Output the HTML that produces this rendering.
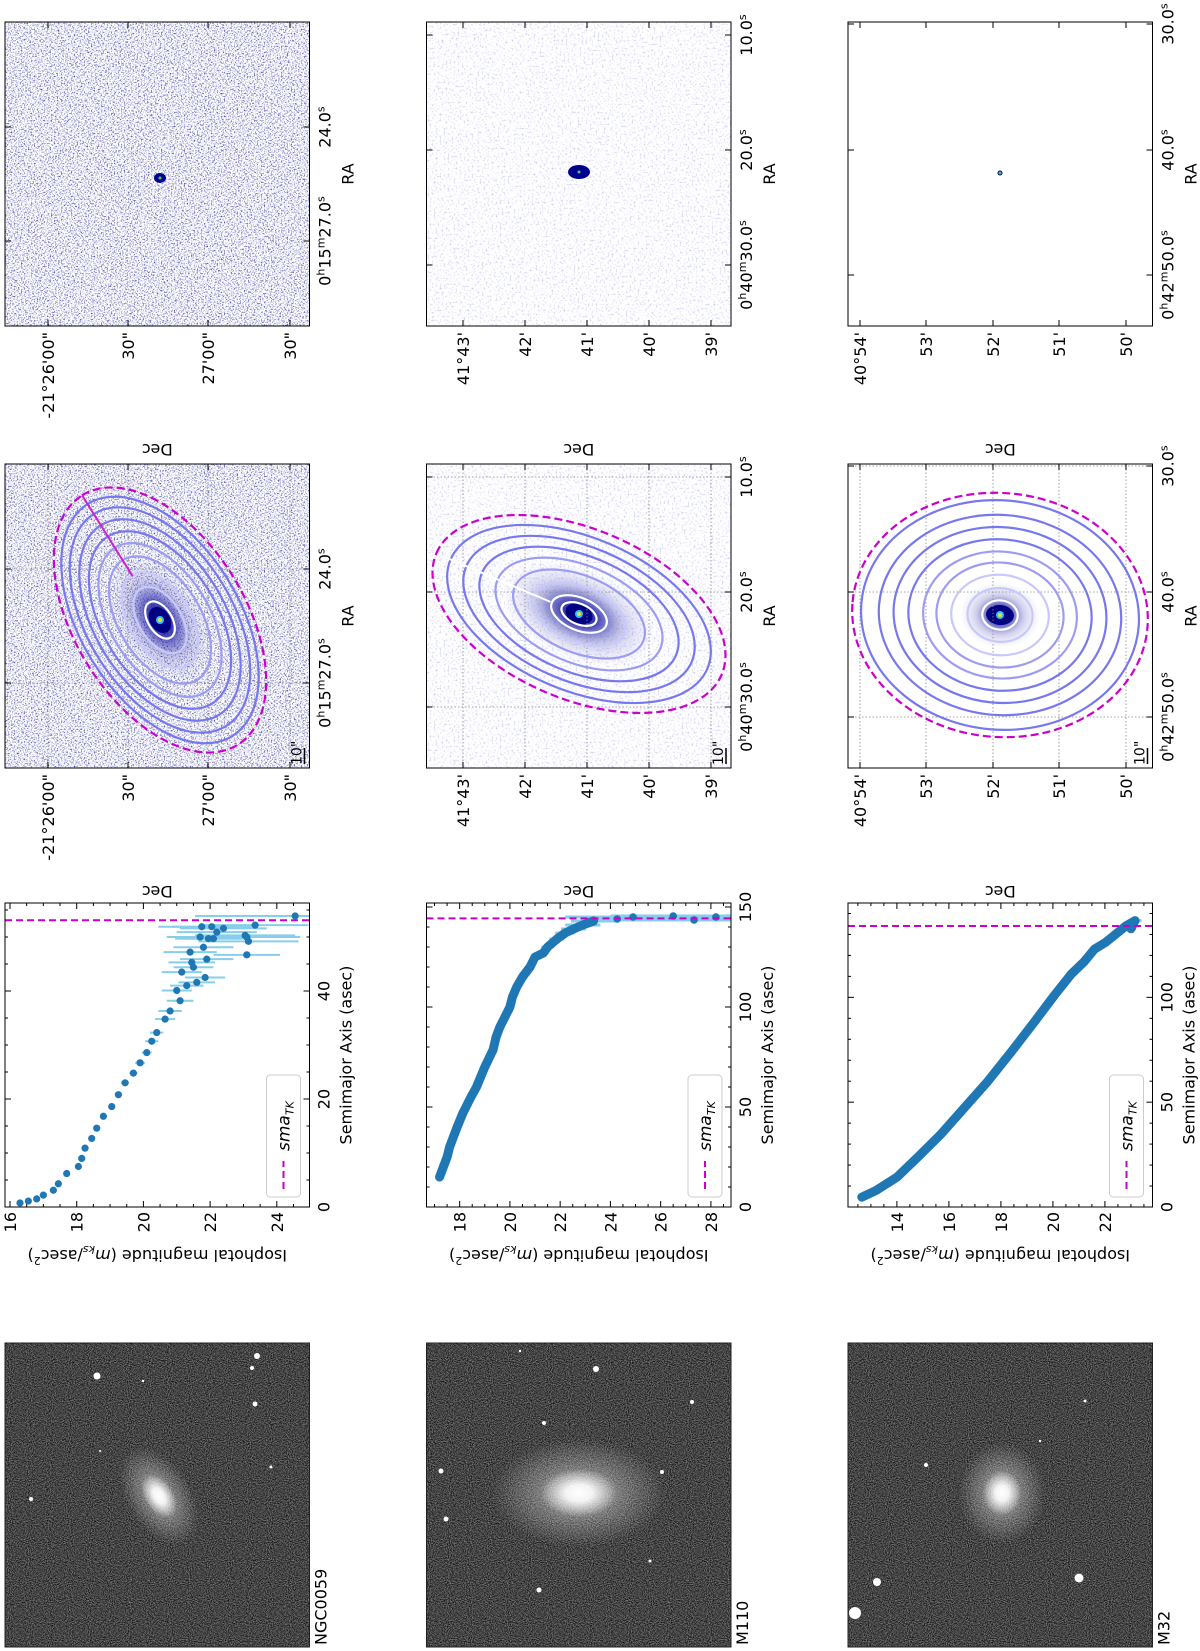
<!DOCTYPE html>
<html><head><meta charset="utf-8"><style>
html,body{margin:0;padding:0;background:#fff}
#root{position:relative;width:1200px;height:1651px;overflow:hidden;background:#fff}
#fig{position:absolute;left:0;top:0;transform-origin:0 0;transform:translate(0px,1651px) rotate(-90deg);font-family:"DejaVu Sans","Liberation Sans",sans-serif}
</style></head><body>
<div id="root">
<svg id="fig" width="1651" height="1200" viewBox="0 0 1651 1200" xmlns="http://www.w3.org/2000/svg">
<defs>
<filter id="grayNoise" x="0" y="0" width="100%" height="100%" color-interpolation-filters="sRGB">
<feTurbulence type="fractalNoise" baseFrequency="0.95" numOctaves="2" seed="3"/>
<feColorMatrix type="matrix" values="0.9 0 0 0 -0.18  0.9 0 0 0 -0.18  0.9 0 0 0 -0.18  0 0 0 0 1"/>
</filter>
<filter id="speckDense" x="0" y="0" width="100%" height="100%" color-interpolation-filters="sRGB">
<feTurbulence type="fractalNoise" baseFrequency="0.7" numOctaves="2" seed="7"/>
<feColorMatrix type="matrix" values="0 0 0 0 0.25  0 0 0 0 0.25  0 0 0 0 0.65  3.2 0 0 0 -1.55"/>
</filter>
<filter id="speckLight" x="0" y="0" width="100%" height="100%" color-interpolation-filters="sRGB">
<feTurbulence type="fractalNoise" baseFrequency="0.5" numOctaves="2" seed="11"/>
<feColorMatrix type="matrix" values="0 0 0 0 0.55  0 0 0 0 0.55  0 0 0 0 0.9  1.5 0 0 0 -0.8"/>
</filter>
<radialGradient id="glowWhite"><stop offset="0" stop-color="#fff" stop-opacity="1"/><stop offset="0.35" stop-color="#fff" stop-opacity="0.9"/><stop offset="1" stop-color="#fff" stop-opacity="0"/></radialGradient>
<radialGradient id="glowBlue"><stop offset="0" stop-color="#000090" stop-opacity="1"/><stop offset="0.25" stop-color="#1010a0" stop-opacity="0.75"/><stop offset="0.6" stop-color="#6060c0" stop-opacity="0.3"/><stop offset="1" stop-color="#a0a0e0" stop-opacity="0"/></radialGradient>
</defs>
</svg>
</div>
<script>
// ---------- data ----------
const galaxyNames = ['NGC0059', 'M110', 'M32'];
const ngcSma = [0.75,1.1,1.5,2.2,3.1,4.3,6.2,7.5,9.0,10.9,12.7,14.6,16.8,18.6,20.8,23.0,24.8,26.7,28.6,30.7,32.3,34.8,36.3,38.2,40.1,41.0,41.6,43.5,44.4,45.3,42.5,47.2,48.1,49.7,50.0,50.9,51.9,51.6,46.7,50.0,49.2,50.3,52.2,51.9,53.9,45.9,49.7];
const ngcMag = [16.3,16.55,16.8,17.0,17.3,17.45,17.7,18.05,18.15,18.25,18.45,18.6,18.8,19.05,19.25,19.45,19.7,19.9,20.1,20.25,20.4,20.65,20.8,21.1,21.0,21.3,21.6,21.15,21.5,21.45,21.85,21.4,21.8,22.1,21.7,22.2,22.05,22.4,23.1,23.1,23.15,23.05,23.35,21.75,24.55,21.9,21.95];
const ngcErr = [0.03,0.03,0.03,0.04,0.04,0.05,0.05,0.06,0.06,0.07,0.08,0.08,0.09,0.1,0.1,0.12,0.12,0.15,0.15,0.2,0.2,0.3,0.35,0.4,0.45,0.5,0.55,0.6,0.6,0.7,0.6,0.8,0.9,1.0,1.0,1.2,1.2,1.3,1.0,1.6,1.5,1.5,1.6,1.3,3.0,0.8,1.0];
const m110Sma = [15,20,25,30,35,40,47,55,60,70,78.6,85,90,100,105,110,115,120,125,127,130,134,137,139,141,143,144,145,145.5,143.5,145];
const m110Mag = [17.2,17.35,17.5,17.6,17.75,17.9,18.13,18.45,18.67,19.0,19.33,19.45,19.6,20.0,20.1,20.27,20.5,20.8,21.0,21.33,21.5,21.87,22.2,22.53,22.9,23.33,24.27,24.9,26.5,27.33,28.2];
const m110Err = [0.05,0.05,0.05,0.05,0.05,0.05,0.05,0.05,0.05,0.06,0.06,0.07,0.07,0.08,0.08,0.1,0.1,0.12,0.15,0.2,0.25,0.3,0.4,0.5,0.7,0.9,1.2,1.5,2.5,4,6];
const m32Sma = [4.7,7.9,14.2,23.7,34.8,47.4,60,74,88.5,101,111,117,123,126,130,134,136.6,132.7];
const m32Mag = [12.65,13.2,14.0,14.8,15.7,16.6,17.5,18.4,19.3,20.06,20.7,21.2,21.6,22.0,22.4,22.8,23.16,23.0];
const m32Err = [0.02,0.02,0.02,0.02,0.02,0.03,0.03,0.03,0.04,0.05,0.08,0.1,0.12,0.15,0.15,0.2,0.25,0.2];
const smaTK = [53.1, 144.3, 134];
const smaRange = [[0,56.3],[0,152],[0,145]];
const magRange = [[15.85,24.98],[16.68,28.8],[12.12,23.83]];
const smaTicks = [[0,20,40],[0,50,100,150],[0,50,100]];
const smaMinor = [5,10,10];
const magTicks = [[16,18,20,22,24],[18,20,22,24,26,28],[14,16,18,20,22]];
const decTickLabels = [['-21°26\'00"','30"','27\'00"','30"'],['41°43\'','42\'','41\'','40\'','39\''],['40°54\'','53\'','52\'','51\'','50\'']];
const raTickLabels = [[['24.0','s'],['0','h','15','m','27.0','s']],[['10.0','s'],['20.0','s'],['0','h','40','m','30.0','s']],[['30.0','s'],['40.0','s'],['0','h','42','m','50.0','s']]];

// ---------- layout (geometry) ----------
const NS='http://www.w3.org/2000/svg';
const svg=document.getElementById('fig');
const rowTop=[5,426.5,848], H=304.5, W=304;
const colGray=4, colProf=444, colCont=883, colRes=1325;
const decGridY=[[48,128,208,290],[463,525,587,649,711],[860,926,993,1059,1126]];
const raGridX=[[1082,968],[1174,1059,944],[1185,1059,934]];
function mk(tag,attrs,parent){const e=document.createElementNS(NS,tag);for(const k in attrs)e.setAttribute(k,attrs[k]);(parent||svg).appendChild(e);return e;}
function text(x,y,s,attrs,parent){const t=mk('text',Object.assign({x:x,y:y,'font-size':16,fill:'#000'},attrs||{}),parent);t.textContent=s;return t;}

// ---------- grayscale images ----------
const grayStars=[[[275,97,3.5],[295,257,3],[283,252,2],[247,255,2.5],[152,31,2],[184,271,1.5],[270,143,1.2],[200,100,1]],
 [[282,596,3],[180,441,2.5],[132,446,2.5],[61,539,2.5],[179,662,2],[249,692,2],[228,544,2],[90,650,1.5],[300,520,1.2]],
 [[69,877,4],[38,855,6],[73,1079,4.5],[186,926,2],[250,1085,1.5],[210,1040,1.2]]];
const grayGal=[[155,159,30,18,-32],[158,579,30,48,0],[158,1002,28,24,0]];
for(let r=0;r<3;r++){
  const g=mk('g',{});
  
  
  const bg=mk('rect',{x:colGray,y:rowTop[r],width:W,height:H,fill:'#444',filter:'url(#grayNoise)'},g);
  
  
  const gg=grayGal[r];
  const glow=mk('ellipse',{cx:gg[0],cy:gg[1],rx:gg[2]*1.8,ry:gg[3]*1.8,fill:'url(#glowWhite)',opacity:0.4,transform:`rotate(${gg[4]} ${gg[0]} ${gg[1]})`},g);
  
  
  const core=mk('ellipse',{cx:gg[0],cy:gg[1],rx:gg[2]*0.8,ry:gg[3]*0.8,fill:'url(#glowWhite)',transform:`rotate(${gg[4]} ${gg[0]} ${gg[1]})`},g);
  
  
  grayStars[r].forEach(s=>{const c=mk('circle',{cx:s[0],cy:s[1],r:s[2],fill:'#fff'},g);
    
    });
  const fr=mk('rect',{x:colGray,y:rowTop[r],width:W,height:H,fill:'none',stroke:'#222','stroke-width':1},g);
  
  
  const nm=text(colGray+2,rowTop[r]+H+17,galaxyNames[r],{},g);
  
  
}

// ---------- profiles ----------
const profSets=[[ngcSma,ngcMag,ngcErr],[m110Sma,m110Mag,m110Err],[m32Sma,m32Mag,m32Err]];
for(let r=0;r<3;r++){
  const y0=rowTop[r], g=mk('g',{});
  
  
  const sx=v=>colProf+(v-smaRange[r][0])/(smaRange[r][1]-smaRange[r][0])*W;
  const sy=v=>y0+(v-magRange[r][0])/(magRange[r][1]-magRange[r][0])*H;
  const clip=mk('clipPath',{id:'pc'+r},g);mk('rect',{x:colProf,y:y0,width:W,height:H},clip);
  const pg=mk('g',{'clip-path':`url(#pc${r})`},g);
  const [S,M,E]=profSets[r];
  for(let i=0;i<S.length;i++){
    const eb=mk('line',{x1:sx(S[i]),x2:sx(S[i]),y1:sy(M[i]-E[i]),y2:sy(M[i]+E[i]),stroke:'#87ceeb','stroke-width':r===0?2:3},pg);
    
    
  }
  if(r>0){
    const idx=S.map((v,i)=>i).filter(i=>M[i]<24);
    const pl=mk('polyline',{points:idx.map(i=>sx(S[i])+','+sy(M[i])).join(' '),fill:'none',stroke:'#1f77b4','stroke-width':9,'stroke-linecap':'round','stroke-linejoin':'round'},pg);
    
    
  }
  for(let i=0;i<S.length;i++){
    const c=mk('circle',{cx:sx(S[i]),cy:sy(M[i]),r:r===0?3.6:3.8,fill:'#1f77b4'},pg);
    
    
  }
  const tk=mk('line',{x1:sx(smaTK[r]),x2:sx(smaTK[r]),y1:y0,y2:y0+H,stroke:'#cc00cc','stroke-width':2,'stroke-dasharray':'7,4'},pg);
  
  
  for(let v=smaRange[r][0];v<=smaRange[r][1];v+=smaMinor[r]){
    const major=smaTicks[r].includes(v);const L=major?6:3;
    mk('line',{x1:sx(v),x2:sx(v),y1:y0+H,y2:y0+H-L,stroke:'#000'},g);
    mk('line',{x1:sx(v),x2:sx(v),y1:y0,y2:y0+L,stroke:'#000'},g);
  }
  smaTicks[r].forEach(v=>{const t=text(sx(v),y0+H+20,String(v),{'text-anchor':'middle'},g);
    
    });
  for(let v=Math.ceil(magRange[r][0]*2)/2;v<=magRange[r][1];v+=0.5){
    const major=magTicks[r].includes(v);const L=major?6:3;
    mk('line',{x1:colProf,x2:colProf+L,y1:sy(v),y2:sy(v),stroke:'#000'},g);
    mk('line',{x1:colProf+W,x2:colProf+W-L,y1:sy(v),y2:sy(v),stroke:'#000'},g);
  }
  magTicks[r].forEach(v=>{const t=text(colProf-5,sy(v)+6,String(v),{'text-anchor':'end'},g);
    
    });
  const bx=mk('rect',{x:colProf,y:y0,width:W,height:H,fill:'none',stroke:'#000','stroke-width':1},g);
  
  
  const lg=mk('g',{},g);
  
  
  mk('rect',{x:colProf+10,y:y0+H-43,width:122,height:34,rx:4,fill:'#fff',stroke:'#ccc'},lg);
  mk('line',{x1:colProf+18,x2:colProf+46,y1:y0+H-26,y2:y0+H-26,stroke:'#cc00cc','stroke-width':2,'stroke-dasharray':'7,4'},lg);
  const lt=mk('text',{x:colProf+56,y:y0+H-20,'font-size':17,'font-style':'italic'},lg);
  lt.innerHTML='sma<tspan font-size="11" dy="4">TK</tspan>';
  
  
  const xl=text(colProf+W/2,y0+H+42,'Semimajor Axis (asec)',{'text-anchor':'middle'},g);
  
  
  const yl=mk('text',{x:0,y:0,'font-size':16,'text-anchor':'middle',transform:`translate(${colProf-43},${y0+H/2}) rotate(-90)`},g);
  yl.innerHTML='Isophotal magnitude (<tspan font-style="italic">m</tspan><tspan font-size="11" dy="4" font-style="italic">ks</tspan><tspan dy="-4">/asec</tspan><tspan font-size="11" dy="-7">2</tspan><tspan dy="7">)</tspan>';
  
  
}

// ---------- contour & residual panels ----------
const ellSets=[
 {cx:1031,cy:160,a:147,b:85,rot:-32,scales:[0.93,0.85,0.76,0.67,0.58,0.48,0.36,0.25,0.14],pa:[0.35,1.0],paColor:'#cc22cc',glow:[70,42],bg:'speckDense',res:[5,6]},
 {cx:1037,cy:579,a:155,b:85,rot:-67,scales:[0.9,0.79,0.68,0.57,0.45,0.32,0.19,0.12],pa:[0.2,0.95],paColor:'#ffffff',glow:[80,45],bg:'speckLight',res:[7,11]},
 {cx:1036,cy:1000,a:148,b:122,rot:-85,scales:[0.94,0.82,0.72,0.62,0.52,0.43,0.33,0.22,0.12],pa:null,paColor:'#fff',glow:[40,33],bg:null,res:[2.5,2.5]}
];
function ellColor(s){return s>0.6?'#7878ee':(s>0.4?'#9c9cf2':(s>0.2?'#c8c8fa':'#ffffff'));}
function wcsPanel(r,x0,isRes){
  const y0=rowTop[r],E=ellSets[r],dx=x0-colCont;
  const g=mk('g',{});
  
  
  const clip=mk('clipPath',{id:'cc'+r+(isRes?'r':'c')},g);mk('rect',{x:x0,y:y0,width:W,height:H},clip);
  const pg=mk('g',{'clip-path':`url(#cc${r}${isRes?'r':'c'})`},g);
  mk('rect',{x:x0,y:y0,width:W,height:H,fill:'#fff'},pg);
  if(E.bg){const b=mk('rect',{x:x0,y:y0,width:W,height:H,fill:'#fff',filter:`url(#${E.bg})`},pg);
    
    }
  const cx=E.cx+dx,cy=E.cy;
  if(!isRes){
    const gl=mk('ellipse',{cx:cx,cy:cy,rx:E.glow[0],ry:E.glow[1],fill:'url(#glowBlue)',transform:`rotate(${E.rot} ${cx} ${cy})`},pg);
    
    
    mk('ellipse',{cx:cx,cy:cy,rx:14,ry:10,fill:'#000080',transform:`rotate(${E.rot} ${cx} ${cy})`},pg);
    mk('circle',{cx:cx,cy:cy,r:4,fill:'#30c0ff'},pg);
    mk('circle',{cx:cx,cy:cy,r:2,fill:'#f0e020'},pg);
    decGridY[r].forEach(yy=>mk('line',{x1:x0,x2:x0+W,y1:yy,y2:yy,stroke:'#888','stroke-dasharray':'1.5,2','stroke-width':0.8},pg));
    raGridX[r].forEach(xx=>mk('line',{x1:xx,x2:xx,y1:y0,y2:y0+H,stroke:'#888','stroke-dasharray':'1.5,2','stroke-width':0.8},pg));
    E.scales.forEach(s=>{const el=mk('ellipse',{cx:cx,cy:cy,rx:E.a*s,ry:E.b*s,fill:'none',stroke:ellColor(s),'stroke-width':2.2,transform:`rotate(${E.rot} ${cx} ${cy})`},pg);
      
      });
    const de=mk('ellipse',{cx:cx,cy:cy,rx:E.a,ry:E.b,fill:'none',stroke:'#cc00cc','stroke-width':2.2,'stroke-dasharray':'8,4',transform:`rotate(${E.rot} ${cx} ${cy})`},pg);
    
    
    if(E.pa){const rad=E.rot*Math.PI/180;
      const pl=mk('line',{x1:cx+E.a*E.pa[0]*Math.cos(rad),y1:cy+E.a*E.pa[0]*Math.sin(rad),x2:cx+E.a*E.pa[1]*Math.cos(rad),y2:cy+E.a*E.pa[1]*Math.sin(rad),stroke:E.paColor,'stroke-width':2},pg);
      
      }
    mk('line',{x1:x0+4,x2:x0+20,y1:y0+H-5,y2:y0+H-5,stroke:'#000','stroke-width':1.5},g);
    const sb=text(x0+3,y0+H-8,'10"',{'font-size':14},g);
    
    
  } else {
    const bl=mk('ellipse',{cx:cx,cy:cy,rx:E.res[0],ry:E.res[1],fill:'#000090'},pg);
    
    
    mk('circle',{cx:cx,cy:cy,r:1.5,fill:'#40d060'},pg);
  }
  decGridY[r].forEach(yy=>{mk('line',{x1:x0,x2:x0+6,y1:yy,y2:yy,stroke:'#000'},g);mk('line',{x1:x0+W,x2:x0+W-6,y1:yy,y2:yy,stroke:'#000'},g);});
  raGridX[r].forEach(xx=>{mk('line',{x1:xx+dx,x2:xx+dx,y1:y0+H,y2:y0+H-6,stroke:'#000'},g);mk('line',{x1:xx+dx,x2:xx+dx,y1:y0,y2:y0+6,stroke:'#000'},g);});
  decTickLabels[r].forEach((s,i)=>{const t=text(x0-6,decGridY[r][i]+6,s,{'text-anchor':'end'},g);
    
    });
  raTickLabels[r].forEach((parts,i)=>{const t=mk('text',{x:raGridX[r][i]+dx,y:y0+H+21,'font-size':16,'text-anchor':'middle'},g);
    let html='';parts.forEach((p,j)=>{html+= j%2===0?`<tspan>${p}</tspan>`:`<tspan font-size="11" baseline-shift="super">${p}</tspan>`;});
    t.innerHTML=html;
    
    });
  const fr=mk('rect',{x:x0,y:y0,width:W,height:H,fill:'none',stroke:'#000'},g);
  
  
  const ra=text(x0+W/2,y0+H+44,'RA',{'text-anchor':'middle'},g);
  
  
  const dc=mk('text',{x:0,y:0,'font-size':16,'text-anchor':'middle',transform:`translate(${x0-118},${y0+H/2}) rotate(-90)`},g);
  dc.textContent='Dec';
  
  
}
for(let r=0;r<3;r++){wcsPanel(r,colCont,false);wcsPanel(r,colRes,true);}
</script>
</body></html>
